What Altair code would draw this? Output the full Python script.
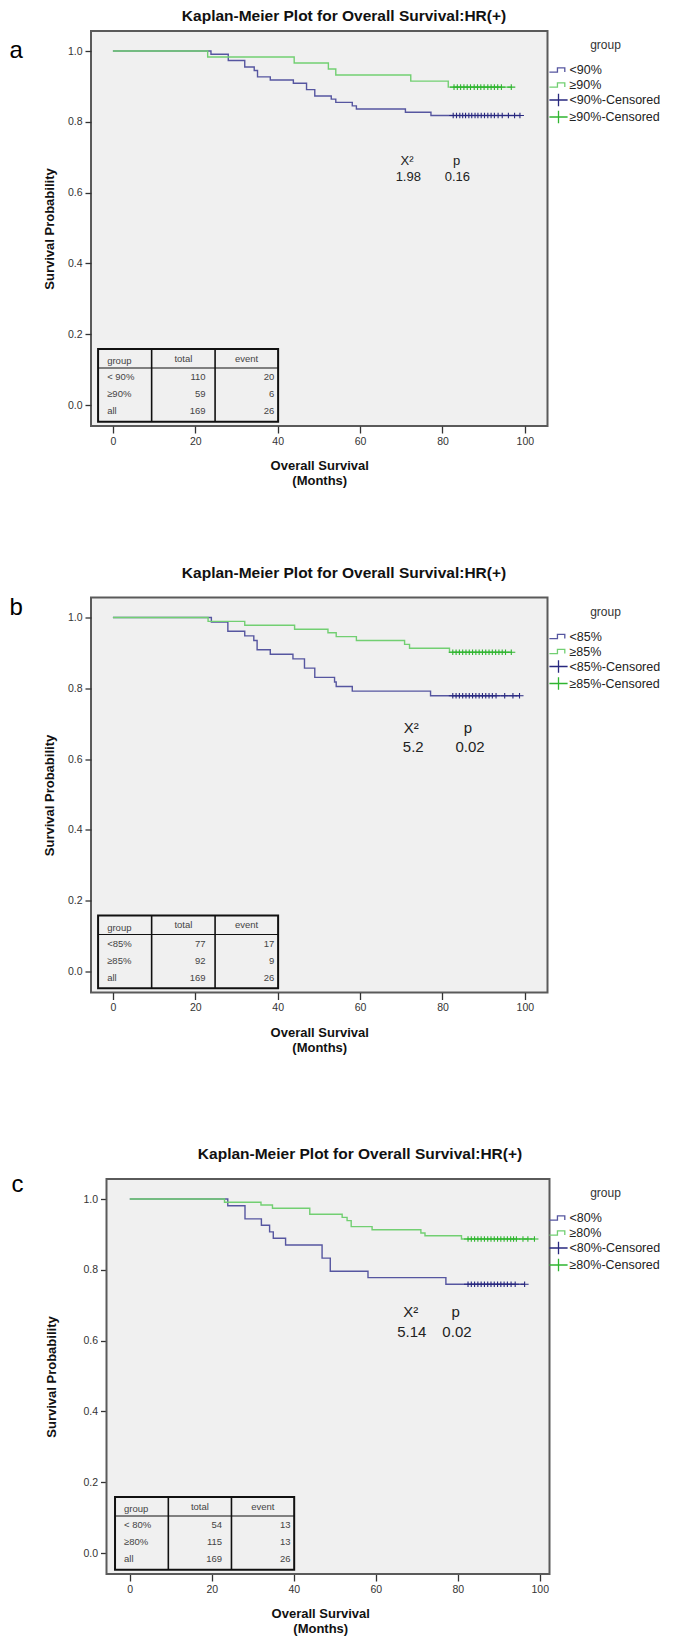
import altair as alt
import pandas as pd

FONT = "Liberation Sans"
TITLE = "Kaplan-Meier Plot for Overall Survival:HR(+)"
X_TICKS = [0, 20, 40, 60, 80, 100]
Y_TICKS = [0.0, 0.2, 0.4, 0.6, 0.8, 1.0]
TABLE_HEAD = ["group", "total", "event"]

# ---------------- panel a ----------------
A_GROUPS = ["<90%", "≥90%"]
A_LT_T = [23.8, 28.0, 32.0, 34.3, 35.1, 38.2, 43.8, 47.0, 49.0, 53.0, 54.1, 58.1, 59.1, 71.0, 77.2]
A_LT_S = [0.991, 0.973, 0.955, 0.945, 0.927, 0.918, 0.909, 0.891, 0.873, 0.864, 0.855, 0.845, 0.836, 0.827, 0.818]
A_LT_C = [82.6, 83.4, 84.2, 84.9, 85.6, 86.4, 87.1, 87.9, 88.6, 89.4, 90.2, 91.0, 91.8, 92.6, 93.5, 94.5, 96.0, 97.5, 98.8]
A_GE_T = [23.0, 44.0, 52.3, 54.1, 72.3, 81.4]
A_GE_S = [0.983, 0.966, 0.949, 0.932, 0.915, 0.898]
A_GE_C = [82.8, 83.6, 84.4, 85.2, 86.0, 86.8, 87.7, 88.5, 89.3, 90.1, 91.0, 91.8, 92.6, 93.4, 94.3, 96.7]
A_TAB_GROUP = ["< 90%", "≥90%", "all"]
A_TAB_TOTAL = ["110", "59", "169"]
A_TAB_EVENT = ["20", "6", "26"]
A_STATS = ["X²", "1.98", "p", "0.16"]
A_STAT_T = [71.4, 71.7, 83.4, 83.6]
A_STAT_S = [0.690, 0.643, 0.690, 0.643]

# ---------------- panel b ----------------
B_GROUPS = ["<85%", "≥85%"]
B_LT_T = [23.9, 27.9, 32.0, 34.2, 35.0, 38.2, 43.7, 46.5, 49.0, 53.8, 54.2, 58.1, 77.1]
B_LT_S = [0.987, 0.961, 0.948, 0.935, 0.909, 0.896, 0.883, 0.857, 0.831, 0.818, 0.805, 0.792, 0.779]
B_LT_C = [82.5, 83.3, 84.1, 84.9, 85.7, 86.5, 87.3, 88.1, 88.9, 89.7, 90.5, 91.3, 92.1, 93.0, 95.1, 97.1, 98.7]
B_GE_T = [23.1, 32.0, 44.1, 52.2, 54.2, 59.1, 70.8, 72.0, 81.7]
B_GE_S = [0.989, 0.978, 0.967, 0.957, 0.946, 0.935, 0.924, 0.913, 0.902]
B_GE_C = [82.5, 83.3, 84.1, 84.9, 85.7, 86.5, 87.3, 88.1, 88.9, 89.7, 90.5, 91.3, 92.1, 92.9, 93.7, 94.5, 95.3, 96.7]
B_TAB_GROUP = ["<85%", "≥85%", "all"]
B_TAB_TOTAL = ["77", "92", "169"]
B_TAB_EVENT = ["17", "9", "26"]
B_STATS = ["X²", "5.2", "p", "0.02"]
B_STAT_T = [72.4, 72.9, 86.2, 86.7]
B_STAT_S = [0.687, 0.633, 0.687, 0.633]

# ---------------- panel c ----------------
C_GROUPS = ["<80%", "≥80%"]
C_LT_T = [23.9, 28.1, 32.1, 34.1, 35.0, 38.0, 46.9, 48.9, 58.1, 77.1]
C_LT_S = [0.981, 0.944, 0.926, 0.907, 0.889, 0.870, 0.833, 0.796, 0.778, 0.759]
C_LT_C = [82.5, 83.3, 84.1, 84.9, 85.7, 86.5, 87.3, 88.1, 88.9, 89.7, 90.5, 91.3, 92.1, 93.0, 94.0, 96.3]
C_GE_T = [23.1, 32.0, 34.8, 43.9, 51.8, 53.0, 54.0, 59.1, 71.0, 72.0, 80.9]
C_GE_S = [0.991, 0.983, 0.974, 0.957, 0.948, 0.939, 0.922, 0.913, 0.904, 0.896, 0.887]
C_GE_C = [82.5, 83.3, 84.1, 84.9, 85.7, 86.5, 87.3, 88.1, 88.9, 89.7, 90.5, 91.3, 92.1, 92.9, 93.6, 94.3, 95.9, 97.1, 98.7]
C_TAB_GROUP = ["< 80%", "≥80%", "all"]
C_TAB_TOTAL = ["54", "115", "169"]
C_TAB_EVENT = ["13", "13", "26"]
C_STATS = ["X²", "5.14", "p", "0.02"]
C_STAT_T = [68.5, 68.8, 79.5, 79.8]
C_STAT_S = [0.680, 0.625, 0.680, 0.625]

# ---------------- styling ----------------
LINE_BLUE = "#5656a0"
LINE_GREEN = "#72cf72"
CENS_BLUE = "#28287f"
CENS_GREEN = "#30b530"
PLOT_BG = "#f0f0f0"
FRAME = "#5a5a5a"
STEP_PATH = "M-1.3,0.3H-0.15V-0.3H0.9V0.3"
PLUS_PATH = "M-1.3,0H1.3M0,-0.9V0.9"
Y_LO, Y_HI = -0.0593, 1.0565
PLOT_H = 395

# table geometry (data units)
TX = [-3.6, 9.4, 24.8, 40.1]
TY_TOP, TY_HEAD, TY_BOT = 0.158, 0.1045, -0.047
TY_HEAD_TXT = 0.131
TY_ROWS = [0.078, 0.030, -0.018]


def panel(letter, letter_x, letter_y, title_x, title_y, groups, lt_t, lt_s, lt_c, ge_t, ge_s, ge_c,
          tab_group, tab_total, tab_event, stats, stat_t, stat_s, stat_size,
          x_domain, width, legend_x, frame_left, ytitle_pad):
    rows = []
    for g, ts, ss, cs in [(groups[0], lt_t, lt_s, lt_c), (groups[1], ge_t, ge_s, ge_c)]:
        rows.append({"t": 0.0, "s": 1.0, "leg": g})
        for t, s in zip(ts, ss):
            rows.append({"t": t, "s": s, "leg": g})
        rows.append({"t": max(cs), "s": ss[-1], "leg": g})
    df_line = pd.DataFrame(rows)
    crows = []
    for g, ss, cs in [(groups[0], lt_s, lt_c), (groups[1], ge_s, ge_c)]:
        for c in cs:
            crows.append({"t": c, "s": ss[-1], "leg": g + "-Censored"})
    df_cens = pd.DataFrame(crows)

    dom = [groups[0], groups[1], groups[0] + "-Censored", groups[1] + "-Censored"]
    cscale = alt.Scale(domain=dom, range=[LINE_BLUE, LINE_GREEN, CENS_BLUE, CENS_GREEN])
    sscale = alt.Scale(domain=dom, range=[STEP_PATH, STEP_PATH, PLUS_PATH, PLUS_PATH])
    legend = alt.Legend(
        title="group", orient="none", legendX=legend_x, legendY=9, padding=0,
        symbolSize=196, symbolStrokeWidth=1.3, symbolFillColor="transparent",
        labelFontSize=12.5, labelFont=FONT, labelColor="#222", labelOffset=3,
        titleFontSize=12, titleFont=FONT, titleFontWeight="normal", titleColor="#333",
        titleAnchor="middle", titlePadding=10, rowPadding=-1,
    )

    xaxis = alt.Axis(values=X_TICKS, format="d", tickSize=7, labelPadding=3,
                     title=["Overall Survival", "(Months)"], titlePadding=13,
                     titleLineHeight=15)
    yaxis = alt.Axis(values=Y_TICKS, format=".1f", tickSize=6, labelPadding=3,
                     title="Survival Probability", titlePadding=ytitle_pad,
                     offset=-frame_left)
    X = alt.X("t:Q", scale=alt.Scale(domain=x_domain, nice=False, zero=False), axis=xaxis)
    Y = alt.Y("s:Q", scale=alt.Scale(domain=[Y_LO, Y_HI], nice=False, zero=False), axis=yaxis)

    layers = []
    if frame_left > 0:
        df_fr = pd.DataFrame({"label": ["frame"]})
        layers.append(alt.Chart(df_fr).mark_rect(fill=PLOT_BG, stroke=FRAME, strokeWidth=2).encode(
            x=alt.value(frame_left), x2=alt.value(width), y=alt.value(0), y2=alt.value(PLOT_H)))

    lines = alt.Chart(df_line).mark_line(interpolate="step-after", strokeWidth=1.4).encode(
        x=X, y=Y, color=alt.Color("leg:N", scale=cscale, legend=legend))
    cens = alt.Chart(df_cens).mark_point(filled=False, size=38, strokeWidth=1.1, opacity=1).encode(
        x=X, y=Y, color=alt.Color("leg:N", scale=cscale, legend=legend),
        shape=alt.Shape("leg:N", scale=sscale, legend=legend))

    df_box = pd.DataFrame({"t": [TX[0]], "t2": [TX[3]], "s": [TY_TOP], "s2": [TY_BOT]})
    box = alt.Chart(df_box).mark_rect(filled=False, stroke="#111", strokeWidth=2).encode(
        x=X, x2="t2", y=Y, y2="s2")
    df_vr = pd.DataFrame({"t": [TX[1], TX[2]], "s": [TY_TOP, TY_TOP], "s2": [TY_BOT, TY_BOT]})
    vrules = alt.Chart(df_vr).mark_rule(color="#111", strokeWidth=1.6).encode(x=X, y=Y, y2="s2")
    df_hr = pd.DataFrame({"t": [TX[0]], "t2": [TX[3]], "s": [TY_HEAD]})
    hrule = alt.Chart(df_hr).mark_rule(color="#111", strokeWidth=1).encode(x=X, x2="t2", y=Y)

    tb = dict(font=FONT, fontSize=9.5, color="#444")
    df_hl = pd.DataFrame({"t": [TX[0] + 2.2], "s": [TY_HEAD_TXT - 0.008], "label": [TABLE_HEAD[0]]})
    head_l = alt.Chart(df_hl).mark_text(align="left", baseline="middle", **tb).encode(x=X, y=Y, text="label:N")
    df_hc = pd.DataFrame({"t": [(TX[1] + TX[2]) / 2, (TX[2] + TX[3]) / 2], "s": [TY_HEAD_TXT] * 2,
                          "label": TABLE_HEAD[1:]})
    head_c = alt.Chart(df_hc).mark_text(align="center", baseline="middle", **tb).encode(x=X, y=Y, text="label:N")
    df_g = pd.DataFrame({"t": [TX[0] + 2.2] * 3, "s": TY_ROWS, "label": tab_group})
    col_g = alt.Chart(df_g).mark_text(align="left", baseline="middle", **tb).encode(x=X, y=Y, text="label:N")
    df_tt = pd.DataFrame({"t": [TX[2] - 2.3] * 3, "s": TY_ROWS, "label": tab_total})
    col_t = alt.Chart(df_tt).mark_text(align="right", baseline="middle", **tb).encode(x=X, y=Y, text="label:N")
    df_ev = pd.DataFrame({"t": [TX[3] - 0.9] * 3, "s": TY_ROWS, "label": tab_event})
    col_e = alt.Chart(df_ev).mark_text(align="right", baseline="middle", **tb).encode(x=X, y=Y, text="label:N")

    df_st = pd.DataFrame({"t": stat_t, "s": stat_s, "label": stats})
    st = alt.Chart(df_st).mark_text(align="center", baseline="middle", font=FONT,
                                    fontSize=stat_size, color="#222").encode(x=X, y=Y, text="label:N")

    df_title = pd.DataFrame({"label": [TITLE]})
    title = alt.Chart(df_title).mark_text(align="center", baseline="middle", font=FONT, fontSize=15.5,
                                          fontWeight="bold", color="#111").encode(
        x=alt.value(title_x), y=alt.value(title_y), text="label:N")
    df_letter = pd.DataFrame({"label": [letter]})
    let = alt.Chart(df_letter).mark_text(align="left", baseline="alphabetic", font=FONT, fontSize=24,
                                         color="#000").encode(
        x=alt.value(letter_x), y=alt.value(letter_y), text="label:N")

    layers += [lines, cens, box, vrules, hrule, head_l, head_c, col_g, col_t, col_e, st, title, let]
    if frame_left > 0:
        view = alt.ViewBackground(fill="transparent", stroke="transparent")
    else:
        view = alt.ViewBackground(fill=PLOT_BG, stroke=FRAME, strokeWidth=2)
    return alt.layer(*layers).properties(width=width, height=PLOT_H, view=view)


pa = panel("a", -81.5, 27, 253, -15, A_GROUPS, A_LT_T, A_LT_S, A_LT_C, A_GE_T, A_GE_S, A_GE_C,
           A_TAB_GROUP, A_TAB_TOTAL, A_TAB_EVENT, A_STATS, A_STAT_T, A_STAT_S, 13,
           [-5.32, 105.49], 456.5, 459.5, 0, 11)
pb = panel("b", -81.5, 17, 253, -25, B_GROUPS, B_LT_T, B_LT_S, B_LT_C, B_GE_T, B_GE_S, B_GE_C,
           B_TAB_GROUP, B_TAB_TOTAL, B_TAB_EVENT, B_STATS, B_STAT_T, B_STAT_S, 15,
           [-5.32, 105.49], 456.5, 459.5, 0, 11)
pc = panel("c", -79.5, 13, 269, -25, C_GROUPS, C_LT_T, C_LT_S, C_LT_C, C_GE_T, C_GE_S, C_GE_C,
           C_TAB_GROUP, C_TAB_TOTAL, C_TAB_EVENT, C_STATS, C_STAT_T, C_STAT_S, 15,
           [-9.46, 102.37], 458.5, 459.5, 15.5, 24.5)

inner = alt.vconcat(pa, pb, spacing=75.5).resolve_scale(color="independent", shape="independent")
chart = alt.vconcat(inner, pc, spacing=91).resolve_scale(
    color="independent", shape="independent"
).properties(
    padding=0
).configure_axis(
    labelFont=FONT, titleFont=FONT, labelColor="#333", tickColor="#333", tickWidth=1.3,
    domain=False, grid=False, labelFontSize=10.5, titleFontSize=13, titleFontWeight="bold",
    titleColor="#111"
)

chart.save("out.html", embed_options={"renderer": "svg", "actions": False})
